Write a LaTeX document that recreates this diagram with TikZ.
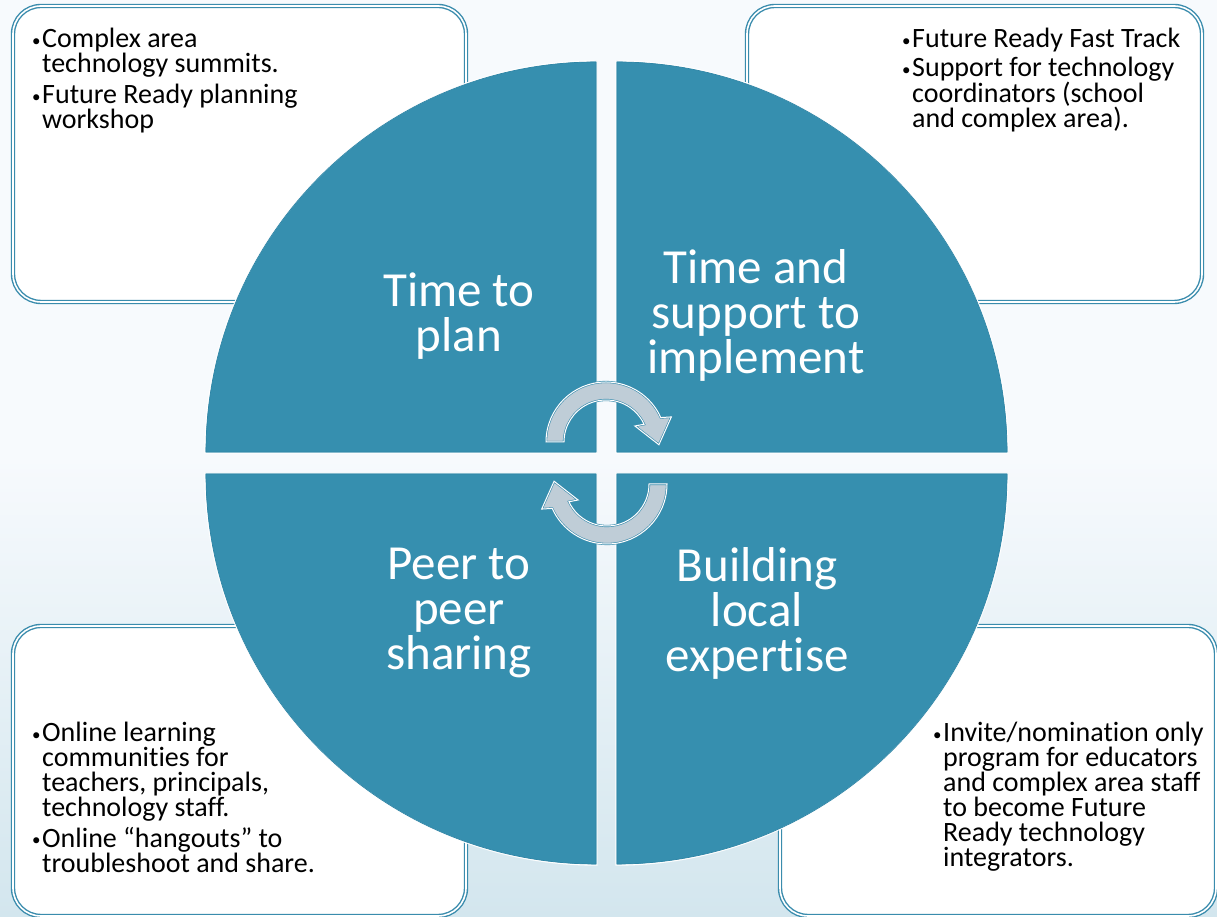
\documentclass[tikz,border=0pt]{standalone}
\usepackage{fontspec}
\setmainfont{Carlito}[Ligatures=NoCommon]
\definecolor{quad}{HTML}{368FAF}
\definecolor{quadedge}{HTML}{2F85A6}
\definecolor{boxline}{HTML}{3A8CAD}
\definecolor{arrowfill}{HTML}{BFCDD7}
\definecolor{bgtop}{HTML}{F7FAFD}
\definecolor{bgbot}{HTML}{D3E6EE}
\newcommand{\bl}{\makebox[10pt][l]{\raisebox{1.5pt}{\fontsize{17}{17}\selectfont\textbullet}}}
\newcommand{\ind}{\hspace*{10pt}}
\begin{document}
\begin{tikzpicture}[x=1pt,y=1pt,
  cornerbox/.style={fill=white, draw=boxline, double=white, double distance=1.6pt, line width=1.4pt, rounded corners=28pt},
  quadshape/.style={fill=quad, draw=white, line width=1.4pt},
  quadedgeline/.style={draw=quadedge, line width=0.7pt},
  quadtext/.style={text=white, font=\fontsize{49}{45}\selectfont, align=center, inner sep=0pt},
  itemtext/.style={font=\fontsize{28}{25}\selectfont, align=left, anchor=north west, inner sep=0pt, text=black},
  cyclearrow/.style={fill=arrowfill, draw=boxline, double=white, double distance=1pt, line width=0.6pt, line join=miter}
]
\useasboundingbox (0,0) rectangle (1217,917);
% background
\fill[bgtop] (0,0) rectangle (1217,917);
\shade[top color=bgtop, bottom color=bgbot] (0,0) rectangle (1217,460);

% corner boxes
\draw[cornerbox] (13,615) rectangle (466,911);
\draw[cornerbox] (747,615) rectangle (1202,911);
\draw[cornerbox] (13,1) rectangle (466,291);
\draw[cornerbox] (780,1) rectangle (1216,291);

% quadrants
\filldraw[quadshape] (597,464) -- (205,464) arc[start angle=180, end angle=90, radius=392] -- cycle;
\filldraw[quadshape] (616,464) -- (616,856) arc[start angle=90, end angle=0, radius=392] -- cycle;
\filldraw[quadshape] (597,444) -- (205,444) arc[start angle=180, end angle=270, radius=392] -- cycle;
\filldraw[quadshape] (616,444) -- (1008,444) arc[start angle=0, end angle=-90, radius=392] -- cycle;
\draw[quadedgeline] (596,465) -- (206,465) arc[start angle=180, end angle=90, radius=390] -- cycle;
\draw[quadedgeline] (617,465) -- (617,855) arc[start angle=90, end angle=0, radius=390] -- cycle;
\draw[quadedgeline] (596,443) -- (206,443) arc[start angle=180, end angle=270, radius=390] -- cycle;
\draw[quadedgeline] (617,443) -- (1007,443) arc[start angle=0, end angle=-90, radius=390] -- cycle;

% quadrant labels
\node[quadtext] (plan) at (459,601) {Time to\\plan};
\node[quadtext] (impl) at (756,602) {Time and\\support to\\implement};
\node[quadtext] (peer) at (459,304) {Peer to\\peer\\sharing};
\node[quadtext] (build) at (757,304) {Building\\local\\expertise};

% cycle arrows
\begin{scope}[shift={(606,475)}]
\filldraw[cyclearrow] (180:60) arc[start angle=180, end angle=24, radius=60] -- (21:70) -- (-3:53) -- (29:33) -- (25:42) arc[start angle=25, end angle=180, radius=42] -- cycle;
\end{scope}
\begin{scope}[shift={(607,433)}]
\filldraw[cyclearrow] (0:42) -- (0:60) arc[start angle=0, end angle=-156, radius=60] -- (-159:70) -- (-183:53) -- (-151:33) -- (-155:42) arc[start angle=-155, end angle=0, radius=42] -- cycle;
\end{scope}

% corner texts
\node[itemtext] (tl1) at (32,889) {\bl Complex area\\\ind technology summits.};
\node[itemtext] (tl2) at (32,833) {\bl Future Ready planning\\\ind workshop};
\node[itemtext] (tr1) at (902,889) {\bl Future Ready Fast Track};
\node[itemtext] (tr2) at (902,860) {\bl Support for technology\\\ind coordinators (school\\\ind and complex area).};
\node[itemtext] (bl1) at (32,195) {\bl Online learning\\\ind communities for\\\ind teachers, principals,\\\ind technology staff.};
\node[itemtext] (bl2) at (32,90) {\bl Online ``hangouts'' to\\\ind troubleshoot and share.};
\node[itemtext] (br1) at (933,195) {\bl Invite/nomination only\\\ind program for educators\\\ind and complex area staff\\\ind to become Future\\\ind Ready technology\\\ind integrators.};
\end{tikzpicture}
\end{document}
